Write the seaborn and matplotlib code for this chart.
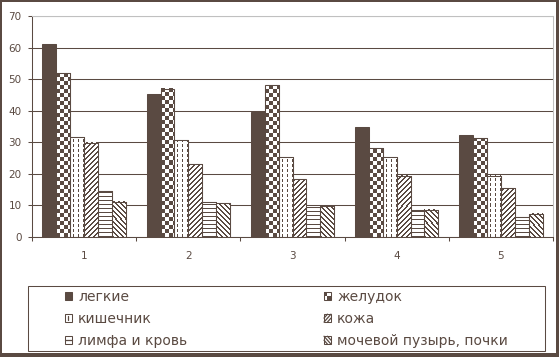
import numpy as np
import pandas as pd
import matplotlib
matplotlib.use("Agg")
import matplotlib.pyplot as plt
import seaborn as sns
from matplotlib.patches import Rectangle
from matplotlib.lines import Line2D
from matplotlib.legend_handler import HandlerBase
from matplotlib.colors import to_rgba

# ---------------- data ----------------
categories = ["1", "2", "3", "4", "5"]
series_names = ["легкие", "желудок", "кишечник", "кожа", "лимфа и кровь", "мочевой пузырь, почки"]
lungs = [61.1, 45.2, 39.7, 34.7, 32.3]
stomach = [51.9, 47.0, 48.1, 28.1, 31.3]
intestine = [31.6, 30.6, 25.2, 25.2, 19.4]
skin = [29.9, 23.0, 18.3, 19.4, 15.4]
lymph_blood = [14.5, 11.0, 9.6, 8.6, 6.2]
bladder_kidney = [11.1, 10.7, 9.8, 8.6, 7.3]
y_ticks = [0, 10, 20, 30, 40, 50, 60, 70]

BROWN = "#5a4a42"
GRAY = "#c0c0c0"
W, H = 559, 357

sns.set_style("white")
plt.rcParams["font.family"] = ["DejaVu Sans"]

fig = plt.figure(figsize=(W / 100, H / 100), dpi=100)


def fx(x):
    return x / W


def fy(y):
    return 1 - y / H


ax = fig.add_axes([fx(32), fy(237), fx(553) - fx(32), fy(16) - fy(237)])

series = [lungs, stomach, intestine, skin, lymph_blood, bladder_kidney]
df = pd.DataFrame({
    "category": [c for s in series for c in categories],
    "organ": [n for n, s in zip(series_names, series) for _ in s],
    "value": [v for s in series for v in s],
})
kinds = ["solid", "checker", "dashed", "fwd", "horiz", "back"]
palette = {n: (BROWN if k == "solid" else "white") for n, k in zip(series_names, kinds)}

sns.barplot(data=df, x="category", y="value", hue="organ", order=categories,
            hue_order=series_names, palette=palette, edgecolor=BROWN, linewidth=0.75,
            width=0.8, saturation=1, legend=False, errorbar=None, ax=ax)

ax.set_xlim(-0.5, len(categories) - 0.5)
ax.set_ylim(y_ticks[0], y_ticks[-1])


def pattern(kind, h, w):
    i, j = np.mgrid[0:h, 0:w]
    ib = h - 1 - i
    if kind == "checker":
        return ((ib // 4 + j // 4) % 2) == 0
    if kind == "dashed":
        return (j % 5 == 3) & (ib % 5 < 3)
    if kind == "fwd":
        return ((ib - j) % 5) < 2
    if kind == "back":
        return ((ib + j) % 5) < 2
    if kind == "horiz":
        return (ib % 4) == 0
    return np.zeros((h, w), bool)


brown_rgba = np.array(to_rgba(BROWN))
white_rgba = np.array([1.0, 1.0, 1.0, 1.0])

for cont, kind in zip(ax.containers, kinds):
    if kind == "solid":
        continue
    for bar in cont:
        x0, w, h = bar.get_x(), bar.get_width(), bar.get_height()
        px0, py0 = ax.transData.transform((x0, 0))
        px1, py1 = ax.transData.transform((x0 + w, h))
        wp = max(1, int(round(px1 - px0)))
        hp = max(1, int(round(py1 - py0)))
        mask = pattern(kind, hp, wp)
        img = np.where(mask[..., None], brown_rgba, white_rgba)
        ax.imshow(img, extent=(x0, x0 + w, 0, h), interpolation="nearest",
                  aspect="auto", zorder=bar.get_zorder() + 0.1)
        ax.add_patch(Rectangle((x0, 0), w, h, fill=False, edgecolor=BROWN,
                               linewidth=0.75, zorder=bar.get_zorder() + 0.2))

ax.set_xlim(-0.5, len(categories) - 0.5)
ax.set_ylim(y_ticks[0], y_ticks[-1])
ax.set_yticks(y_ticks)
ax.set_xticks(range(len(categories)))
ax.set_xticklabels(categories)
ax.set_xticks(np.arange(-0.5, len(categories)), minor=True)
ax.set_xlabel("")
ax.set_ylabel("")
ax.tick_params(axis="x", which="major", bottom=True, length=0, pad=10,
               labelsize=7.5, labelcolor=BROWN)
ax.tick_params(axis="x", which="minor", bottom=True, length=3, width=0.75,
               color=BROWN, direction="out")
ax.tick_params(axis="y", left=True, length=3, width=0.75, color=BROWN,
               direction="out", pad=4.5, labelsize=7.5, labelcolor=BROWN)
ax.yaxis.grid(True, color=BROWN, linewidth=0.75)
ax.xaxis.grid(False)
ax.set_axisbelow(True)
for s in ["left", "bottom"]:
    ax.spines[s].set_color(BROWN)
    ax.spines[s].set_linewidth(0.75)
for s in ["top", "right"]:
    ax.spines[s].set_color(GRAY)
    ax.spines[s].set_linewidth(0.75)


# ---------------- legend ----------------
class KeyHandler(HandlerBase):
    def create_artists(self, legend, orig_handle, xdescent, ydescent,
                       width, height, fontsize, trans):
        kind = orig_handle.get_gid()
        x0, y0, w, h = -xdescent, -ydescent, width, height
        arts = [Rectangle((x0, y0), w, h, facecolor=BROWN if kind == "solid" else "white",
                          edgecolor=BROWN, linewidth=0.75, transform=trans)]
        lk = dict(color=BROWN, linewidth=0.9, transform=trans)
        if kind == "checker":
            arts.append(Rectangle((x0, y0 + h / 2), w / 2, h / 2, facecolor=BROWN,
                                  linewidth=0, transform=trans))
            arts.append(Rectangle((x0 + w / 2, y0), w / 2, h / 2, facecolor=BROWN,
                                  linewidth=0, transform=trans))
        elif kind == "dashed":
            arts.append(Line2D([x0 + w / 2] * 2, [y0 + h * 0.25, y0 + h * 0.75], **lk))
        elif kind == "horiz":
            arts.append(Line2D([x0, x0 + w], [y0 + h / 2] * 2, **lk))
        elif kind == "fwd":
            arts.append(Line2D([x0, x0 + w / 2], [y0 + h / 2, y0 + h], **lk))
            arts.append(Line2D([x0, x0 + w], [y0, y0 + h], **lk))
            arts.append(Line2D([x0 + w / 2, x0 + w], [y0, y0 + h / 2], **lk))
        elif kind == "back":
            arts.append(Line2D([x0, x0 + w / 2], [y0 + h / 2, y0], **lk))
            arts.append(Line2D([x0, x0 + w], [y0 + h, y0], **lk))
            arts.append(Line2D([x0 + w / 2, x0 + w], [y0 + h, y0 + h / 2], **lk))
        return arts


proxies = []
for k in kinds:
    r = Rectangle((0, 0), 1, 1)
    r.set_gid(k)
    proxies.append(r)

leg_kw = dict(handler_map={Rectangle: KeyHandler()}, frameon=False, fontsize=10,
              handlelength=0.5, handleheight=0.5, handletextpad=0.45,
              labelspacing=0.58, borderpad=0, borderaxespad=0, labelcolor=BROWN,
              loc="upper left")
col1 = [0, 2, 4]
col2 = [1, 3, 5]
fig.legend([proxies[i] for i in col1], [series_names[i] for i in col1],
           bbox_to_anchor=(fx(65), fy(290)), **leg_kw)
fig.legend([proxies[i] for i in col2], [series_names[i] for i in col2],
           bbox_to_anchor=(fx(324), fy(290)), **leg_kw)

fig.add_artist(Rectangle((fx(28), fy(351)), fx(545) - fx(28), fy(286) - fy(351),
                         fill=False, edgecolor=BROWN, linewidth=0.75,
                         transform=fig.transFigure))

# outer frame
for (x, y, w, h) in [(0, 0, 2, H), (0, 0, W, 2), (556, 0, 3, H), (0, 353, W, 4)]:
    fig.add_artist(Rectangle((fx(x), fy(y + h)), w / W, h / H, facecolor=BROWN,
                             linewidth=0, transform=fig.transFigure))

fig.savefig("out.png", dpi=100)
